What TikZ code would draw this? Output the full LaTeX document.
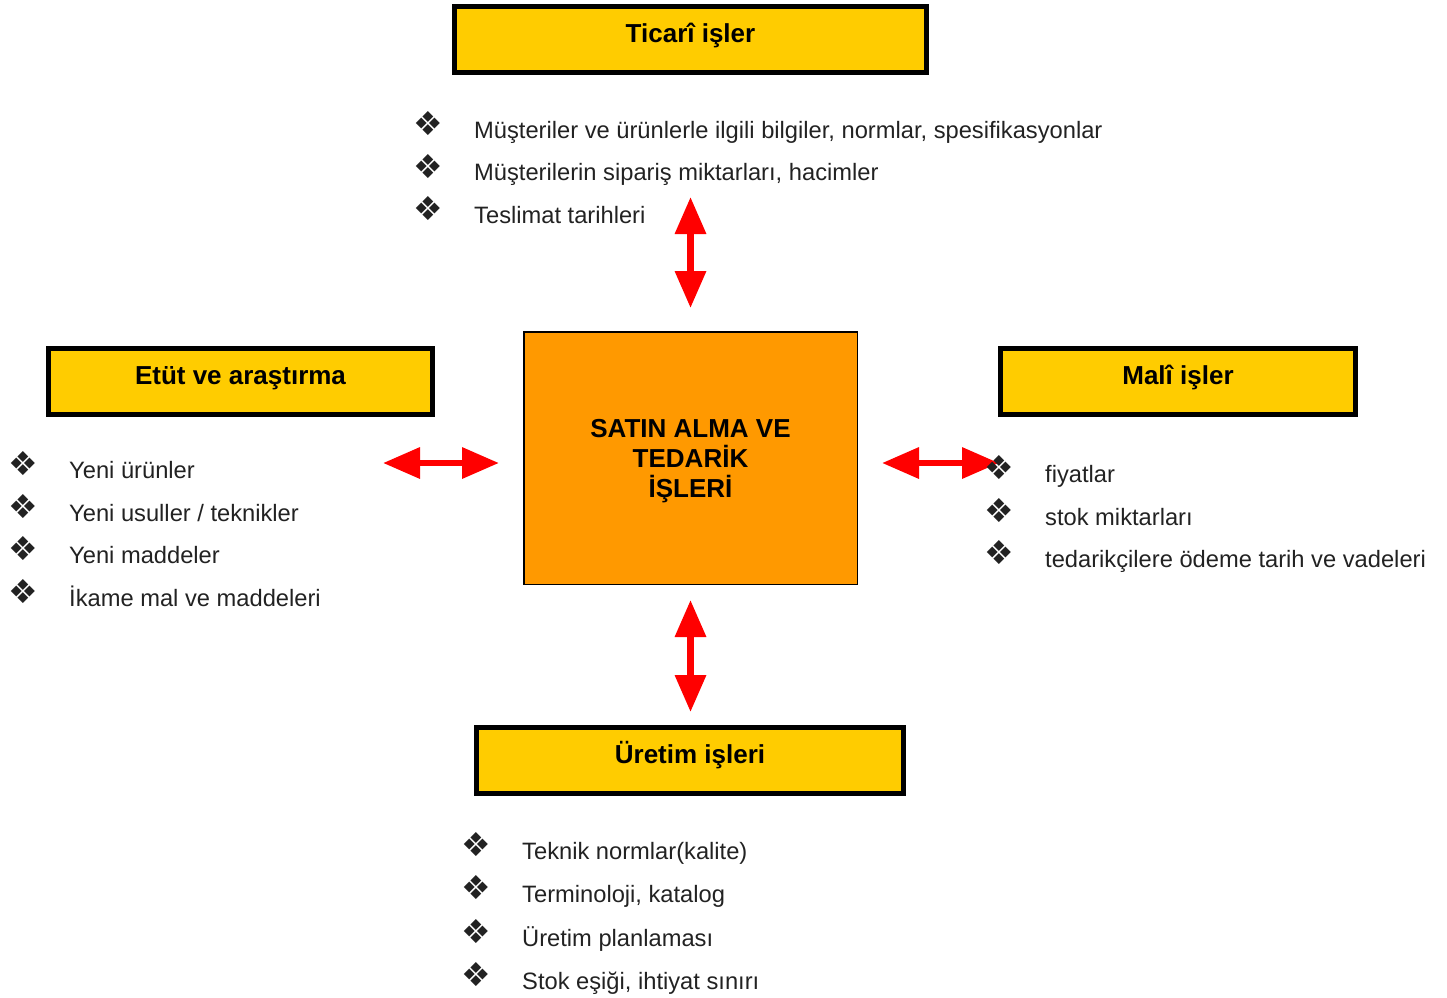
\documentclass[tikz,border=0pt]{standalone}
\usepackage{fontspec}
\setmainfont{Liberation Sans}
\newfontfamily\dvfont{DejaVu Sans}
\usetikzlibrary{arrows.meta}
\definecolor{boxyellow}{HTML}{FFCC00}
\definecolor{boxorange}{HTML}{FF9900}
\definecolor{arrowred}{HTML}{FF0000}
\definecolor{listtext}{HTML}{222222}
\newcommand{\bulglyph}{\raisebox{2.5pt}{\dvfont\fontsize{33}{33}\selectfont ❖}}
\newcommand{\itm}[1]{\makebox[61pt][l]{\bulglyph}#1}
\begin{document}
\begin{tikzpicture}[x=1pt,y=-1pt,
  titlebox/.style={draw=black, line width=5pt, fill=boxyellow, inner sep=0pt,
    minimum height=66pt, font=\bfseries\fontsize{26}{30}\selectfont,
    text height=18.6pt, text depth=12pt},
  centerbox/.style={draw=black, line width=1.5pt, fill=boxorange, inner sep=0pt,
    minimum width=333.5pt, minimum height=252.5pt, align=center,
    font=\bfseries\fontsize{26}{30}\selectfont},
  listitem/.style={anchor=base west, inner sep=0pt, text=listtext,
    font=\fontsize{23.7}{28}\selectfont},
  biarrow/.style={draw=arrowred, line width=6.5pt,
    {Triangle[length=37pt,width=30pt]}-{Triangle[length=37pt,width=30pt]}}
]
\useasboundingbox (0,0) rectangle (1447,997);

% boxes
\node[titlebox, minimum width=472pt] (ticari) at (690.5,39.5) {Ticarî işler};
\node[titlebox, minimum width=384pt] (etut) at (240.5,381.5) {Etüt ve araştırma};
\node[titlebox, minimum width=355pt] (mali) at (1178,381.5) {Malî işler};
\node[titlebox, minimum width=427pt] (uretim) at (690,760.5) {Üretim işleri};
\node[centerbox] (center) at (690.5,458) {\rule{0pt}{24.7pt}SATIN ALMA VE\\TEDARİK\\İŞLERİ};

% arrows
\coordinate (lstart) at (383,463);
\coordinate (rend) at (999,463);
\draw[biarrow, shorten <=122pt, shorten >=23pt] (ticari.south) -- (center.north);
\draw[biarrow, shorten <=15pt, shorten >=13pt] (center.south) -- (center.south |- uretim.north);
\draw[biarrow, shorten >=24pt] (lstart) -- (center.west |- lstart);
\draw[biarrow, shorten <=24pt] (center.east |- rend) -- (rend);

% top list
\node[listitem] (t1) at (413,138) {\itm{Müşteriler ve ürünlerle ilgili bilgiler, normlar, spesifikasyonlar}};
\node[listitem] (t2) at (413,180.5) {\itm{Müşterilerin sipariş miktarları, hacimler}};
\node[listitem] (t3) at (413,223) {\itm{Teslimat tarihleri}};

% left list
\node[listitem] (l1) at (8,478) {\itm{Yeni ürünler}};
\node[listitem] (l2) at (8,521) {\itm{Yeni usuller / teknikler}};
\node[listitem] (l3) at (8,563) {\itm{Yeni maddeler}};
\node[listitem] (l4) at (8,606) {\itm{İkame mal ve maddeleri}};

% right list
\node[listitem] (r1) at (984,482) {\itm{fiyatlar}};
\node[listitem] (r2) at (984,525) {\itm{stok miktarları}};
\node[listitem] (r3) at (984,567) {\itm{tedarikçilere ödeme tarih ve vadeleri}};

% bottom list
\node[listitem] (b1) at (461,859) {\itm{Teknik normlar(kalite)}};
\node[listitem] (b2) at (461,902) {\itm{Terminoloji, katalog}};
\node[listitem] (b3) at (461,946) {\itm{Üretim planlaması}};
\node[listitem] (b4) at (461,989) {\itm{Stok eşiği, ihtiyat sınırı}};
\end{tikzpicture}
\end{document}
